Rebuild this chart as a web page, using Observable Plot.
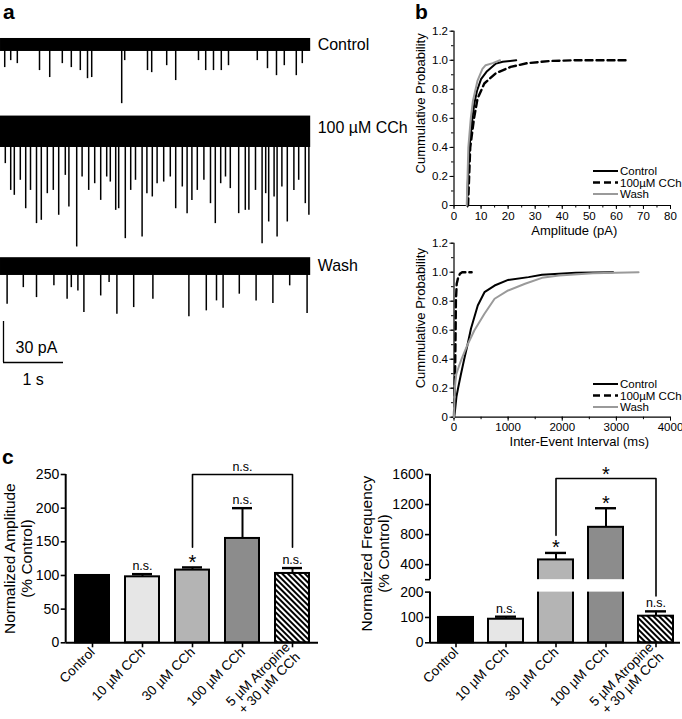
<!DOCTYPE html>
<html><head><meta charset="utf-8">
<script src="https://cdn.jsdelivr.net/npm/d3@7"></script>
<script src="https://cdn.jsdelivr.net/npm/@observablehq/plot@0.6"></script>
<style>
body{margin:0;background:#fff;}
#fig{position:relative;width:682px;height:719px;overflow:hidden;font-family:"Liberation Sans",Arial,sans-serif;color:#000;background:#fff}
.letter{position:absolute;font-weight:bold;font-size:21px;line-height:1}
</style></head><body><div id="fig"></div>
<script>
// ---------------- Panel a : traces (event times in s, amplitudes in pA) ----------------
const traceDuration = 5.17;
const controlEventTimes = [0.07,0.17,0.28,0.65,0.82,1.03,1.18,1.33,1.45,1.52,2.02,2.07,2.45,2.52,2.77,2.92,3.30,3.42,3.55,3.68,3.80,4.28,4.45,4.60,4.73,4.93,5.03];
const controlEventAmps  = [16.8,11.7,13.9,19.0,24.1,13.9,16.8,19.0,24.9,24.1,43.2,11.7,19.0,20.5,15.4,26.3,11.7,19.0,19.0,19.0,15.4,11.7,17.6,22.7,15.4,22.7,13.9];
const cchEventTimes = [0.08,0.17,0.23,0.33,0.42,0.50,0.60,0.68,0.78,0.88,0.97,1.08,1.14,1.27,1.36,1.47,1.57,1.67,1.77,1.83,1.92,1.97,2.08,2.17,2.25,2.36,2.44,2.53,2.61,2.72,2.83,2.92,3.03,3.11,3.19,3.28,3.39,3.50,3.58,3.67,3.75,3.83,3.97,4.08,4.14,4.25,4.36,4.42,4.47,4.56,4.61,4.69,4.78,4.89,4.97,5.08,5.14];
const cchEventAmps  = [25.8,45.4,49.0,38.0,58.8,45.4,69.7,67.3,47.8,45.4,63.6,34.4,57.6,86.8,35.6,45.4,40.5,52.7,35.6,39.3,60.0,58.8,80.7,45.4,38.0,79.5,47.8,50.2,40.5,39.3,35.6,58.8,42.9,62.4,52.7,45.4,38.0,55.1,69.7,40.5,35.6,44.1,62.4,60.0,60.0,45.4,84.4,47.8,68.5,50.2,79.5,42.9,68.5,45.4,38.0,55.1,63.6];
const washEventTimes = [0.11,0.38,0.60,0.89,1.11,1.18,1.29,1.39,1.67,1.81,1.94,2.22,2.54,3.14,3.43,3.60,3.71,3.98,4.26,4.54,4.82,5.11];
const washEventAmps  = [28.0,15.9,23.2,14.6,24.4,15.9,18.3,34.1,22.0,12.2,35.4,30.5,24.4,37.3,32.9,25.6,31.0,20.7,25.6,27.6,14.6,34.9];
const controlNoise = [-5, 4.5];
const cchNoise = [-14, 9];
const washNoise = [-7, 6];
const traceLabels = ["Control", "100 µM CCh", "Wash"];
const scaleBarValues = [30, 1]; // pA, s

// ---------------- Panel b : cumulative distributions ----------------
const seriesNames = ["Control", "100µM CCh", "Wash"];
const ampControl = [[4.8,0],[5.2,0.2],[5.7,0.4],[6.8,0.6],[7.5,0.7],[8.5,0.79],[10,0.87],[12,0.92],[15.5,0.977],[18,0.99],[23,1.0]];
const ampCCh = [[5.2,0],[5.6,0.2],[6,0.4],[7.4,0.6],[8.7,0.736],[11.2,0.84],[15.4,0.91],[20.9,0.954],[27,0.98],[35.7,0.995],[45,1.0],[64.6,1.0]];
const ampWash = [[4.7,0],[5.0,0.2],[5.3,0.4],[6.2,0.6],[7,0.72],[8.7,0.86],[10.5,0.94],[11.7,0.966],[14.3,0.98],[17,1.0]];
const ieiControl = [[0,0],[20,0.05],[45,0.14],[75,0.2],[130,0.3],[188,0.4],[250,0.5],[313,0.61],[439,0.77],[563,0.862],[750,0.908],[1000,0.947],[1377,0.966],[1626,0.982],[2251,0.996],[2940,1.0]];
const ieiCCh = [[0,0],[20,0.3],[30,0.6],[35,0.8],[50,0.92],[75,0.96],[110,0.99],[150,1.0],[326,1.0]];
const ieiWash = [[0,0],[10,0.15],[25,0.25],[45,0.3],[90,0.35],[139,0.4],[250,0.5],[375,0.598],[563,0.713],[750,0.817],[1000,0.874],[1313,0.92],[1626,0.961],[1940,0.977],[2565,0.993],[3410,1.0]];
const probTicks = [0,0.2,0.4,0.6,0.8,1.0,1.2];
const ampTicks = [0,10,20,30,40,50,60,70,80];
const ieiTicks = [0,1000,2000,3000,4000];

// ---------------- Panel c : bar charts ----------------
const categories = ["Control","10 µM CCh","30 µM CCh","100 µM CCh","5 µM Atropine\n+ 30 µM CCh"];
const ampMeans = [100, 98, 108, 155, 103];
const ampUpper = [100, 102, 112, 200, 111];
const ampSig = ["", "n.s.", "*", "n.s.", "n.s."];
const freqMeans = [100, 93, 463, 897, 105];
const freqUpper = [100, 103, 556, 1151, 124];
const freqSig = ["", "n.s.", "*", "*", "n.s."];
const ampTicksC = [0,50,100,150,200,250];
const freqTicksC = [0,100,200,400,800,1200,1600];

// ================= drawing =================
const fig = document.getElementById("fig");
const FONT = '"Liberation Sans", Arial, Helvetica, sans-serif';
const baseStyle = {fontFamily: FONT, background: "transparent", overflow: "visible", color: "#000"};
function place(node, left, top) {
  node.style.position = "absolute"; node.style.left = left + "px"; node.style.top = top + "px";
  fig.appendChild(node); return node;
}
function html(cls, text, left, top) {
  const d = document.createElement("div"); d.className = cls; d.textContent = text;
  d.style.left = left + "px"; d.style.top = top + "px"; fig.appendChild(d); return d;
}

// ----- panel a -----
const PX_PER_PA = 41 / 30, PX_PER_S = 60;
const traceWidth = traceDuration * PX_PER_S;
function tracePlot(label, times, amps, band, domain, baselinePx) {
  const events = times.map((t, i) => ({t, a: amps[i]}));
  const p = Plot.plot({
    width: traceWidth + 130, height: (domain[1] - domain[0]) * PX_PER_PA,
    marginLeft: 0, marginRight: 130, marginTop: 0, marginBottom: 0,
    x: {domain: [0, traceDuration], axis: null},
    y: {domain, axis: null},
    style: {...baseStyle, fontSize: "16px"},
    marks: [
      Plot.rect([band], {x1: 0, x2: traceDuration, y1: d => d[0], y2: d => d[1], fill: "#000"}),
      Plot.ruleX(events, {x: "t", y1: 0, y2: d => -d.a, stroke: "#000", strokeWidth: 1.5}),
      Plot.text([label], {frameAnchor: "right", y: () => 0, text: d => d, textAnchor: "start", lineAnchor: "middle", dx: 7, fontSize: 16})
    ]
  });
  place(p, 0, baselinePx - domain[1] * PX_PER_PA);
}
tracePlot(traceLabels[0], controlEventTimes, controlEventAmps, controlNoise, [-45, 14], 44);
tracePlot(traceLabels[1], cchEventTimes, cchEventAmps, cchNoise, [-90, 16], 128);
tracePlot(traceLabels[2], washEventTimes, washEventAmps, washNoise, [-40, 12], 265);

// scale bar
{
  const [pa, s] = scaleBarValues;
  const p = Plot.plot({
    width: s * PX_PER_S + 3 + 30, height: pa * PX_PER_PA + 3 + 30,
    marginLeft: 3, marginRight: 30, marginTop: 3, marginBottom: 30,
    x: {domain: [0, s], axis: null}, y: {domain: [0, pa], axis: null},
    style: {...baseStyle, fontSize: "16px"},
    marks: [
      Plot.ruleX([0], {y1: 0, y2: pa, strokeWidth: 1.3}),
      Plot.ruleY([0], {x1: 0, x2: s, strokeWidth: 1.3}),
      Plot.text([`${pa} pA`], {frameAnchor: "bottom-left", text: d => d, textAnchor: "start", lineAnchor: "middle", dx: 12, dy: -15, fontSize: 16}),
      Plot.text([`${s} s`], {frameAnchor: "bottom-left", text: d => d, textAnchor: "start", lineAnchor: "middle", dx: 19, dy: 17, fontSize: 16})
    ]
  });
  place(p, 0, 318);
}

// ----- panel b -----
const seriesStroke = ["#000", "#000", "#9a9a9a"];
const seriesDash = [null, "7,4", null];
const seriesWidth = [2, 2.4, 2];
function cumPlot({top, series, xDomain, xTicks, xMinorStep, xTitle, xTitleDx, yTitleDy, marginTop, marginBottom, height, legendTop}) {
  const xMinor = d3.range(xDomain[0], xDomain[1] + 1e-9, xMinorStep);
  const yMinor = d3.range(0, 1.2001, 0.1);
  const marks = [
    Plot.ruleX([xDomain[0]], {strokeWidth: 1.2}),
    Plot.ruleY([0], {strokeWidth: 1.2}),
    Plot.axisY(yMinor, {tickSize: 2.5, tickFormat: () => ""}),
    Plot.axisY(probTicks, {tickSize: 4, tickPadding: 2, fontSize: 11.5, tickFormat: d => d === 0 ? "0" : d.toFixed(1)}),
    Plot.axisX(xMinor, {tickSize: 2.5, tickFormat: () => ""}),
    Plot.axisX(xTicks, {tickSize: 4, tickPadding: 2, fontSize: 11.5, tickFormat: d => String(d)}),
  ];
  series.forEach((s, i) => marks.push(Plot.line(s, {x: d => d[0], y: d => d[1], stroke: seriesStroke[i], strokeWidth: seriesWidth[i], strokeDasharray: seriesDash[i]})));
  marks.push(Plot.text(["Cummulative Probability"], {frameAnchor: "left", text: d => d, rotate: -90, textAnchor: "middle", lineAnchor: "middle", dx: -33.5, dy: yTitleDy, fontSize: 13}));
  marks.push(Plot.text([xTitle], {frameAnchor: "bottom", text: d => d, textAnchor: "middle", lineAnchor: "middle", dx: xTitleDx, dy: 25, fontSize: 13}));
  const p = Plot.plot({
    width: 282, height, marginLeft: 53.5, marginRight: 12, marginTop, marginBottom,
    x: {domain: xDomain}, y: {domain: [0, 1.2]},
    style: {...baseStyle, fontSize: "11.5px"},
    marks
  });
  place(p, 400, top);
  // legend
  const ns = "http://www.w3.org/2000/svg";
  const svg = document.createElementNS(ns, "svg");
  svg.setAttribute("width", 90); svg.setAttribute("height", 36);
  svg.style.cssText = `position:absolute;left:593px;top:${legendTop}px;overflow:visible`;
  seriesNames.forEach((n, i) => {
    const y = 5 + i * 11.5;
    const l = document.createElementNS(ns, "line");
    l.setAttribute("x1", 0); l.setAttribute("x2", 25); l.setAttribute("y1", y); l.setAttribute("y2", y);
    l.setAttribute("stroke", seriesStroke[i]); l.setAttribute("stroke-width", seriesWidth[i]);
    if (seriesDash[i]) l.setAttribute("stroke-dasharray", seriesDash[i]);
    svg.appendChild(l);
    const t = document.createElementNS(ns, "text");
    t.setAttribute("x", 27); t.setAttribute("y", y + 4); t.setAttribute("font-size", 11.5);
    t.setAttribute("font-family", FONT); t.textContent = n;
    svg.appendChild(t);
  });
  fig.appendChild(svg);
}
cumPlot({top: 0, series: [ampControl, ampCCh, ampWash], xDomain: [0, 80], xTicks: ampTicks, xMinorStep: 5,
  xTitle: "Amplitude (pA)", xTitleDx: 12, yTitleDy: -15, marginTop: 30.7, marginBottom: 35, height: 240, legendTop: 166});
cumPlot({top: 220, series: [ieiControl, ieiCCh, ieiWash], xDomain: [0, 4000], xTicks: ieiTicks, xMinorStep: 500,
  xTitle: "Inter-Event Interval (ms)", xTitleDx: 17, yTitleDy: -12, marginTop: 22.7, marginBottom: 43.3, height: 240, legendTop: 379});

// ----- panel c -----
const barFills = ["#000000", "#e6e6e6", "#b4b4b4", "#8c8c8c", null];
function leftAxisLine(index, scales, values, dims) {
  const l = document.createElementNS("http://www.w3.org/2000/svg", "line");
  l.setAttribute("x1", dims.marginLeft); l.setAttribute("x2", dims.marginLeft);
  l.setAttribute("y1", dims.marginTop); l.setAttribute("y2", dims.height - dims.marginBottom);
  l.setAttribute("stroke", "#000"); l.setAttribute("stroke-width", 2);
  return l;
}
function addHatch(svg, id) {
  const ns = "http://www.w3.org/2000/svg";
  const defs = document.createElementNS(ns, "defs");
  const pat = document.createElementNS(ns, "pattern");
  pat.setAttribute("id", id); pat.setAttribute("width", 4); pat.setAttribute("height", 4);
  pat.setAttribute("patternUnits", "userSpaceOnUse"); pat.setAttribute("patternTransform", "rotate(-45)");
  const r = document.createElementNS(ns, "rect");
  r.setAttribute("width", 4); r.setAttribute("height", 4); r.setAttribute("fill", "#fff");
  const l = document.createElementNS(ns, "line");
  l.setAttribute("x1", 1); l.setAttribute("x2", 1); l.setAttribute("y1", 0); l.setAttribute("y2", 4);
  l.setAttribute("stroke", "#000"); l.setAttribute("stroke-width", 2);
  pat.appendChild(r); pat.appendChild(l); defs.appendChild(pat);
  svg.insertBefore(defs, svg.firstChild);
}
function barPlot({left, means, uppers, sig, hatchId, yTicks, yOpt, title, titleDx, titleDy, marginLeft, marginRight, padIn, padOut, bracket, extra}) {
  const data = categories.map((c, i) => ({cat: c, mean: means[i], upper: uppers[i], sig: sig[i],
    fill: barFills[i] ?? `url(#${hatchId})`}));
  const err = data.filter(d => d.upper > d.mean);
  const marks = [
    Plot.barY(data, {x: "cat", y: "mean", fill: "fill", stroke: "#000", strokeWidth: 2}),
    Plot.ruleX(err, {x: "cat", y1: "mean", y2: "upper", strokeWidth: 2}),
    Plot.tickY(err, {x: "cat", y: "upper", strokeWidth: 2.4, insetLeft: 7, insetRight: 7}),
    leftAxisLine,
    ...(extra || []),
    Plot.ruleY([0], {strokeWidth: 2}),
    Plot.axisY(yTicks, {tickSize: 5, tickPadding: 2, fontSize: 14, strokeWidth: 1.6, tickFormat: d => String(d)}),
    Plot.axisX(categories, {tickSize: 5, tickPadding: 2, tickRotate: -45, fontSize: 13.5, lineHeight: 1.05, strokeWidth: 1.6, tickFormat: d => d, label: null}),
    Plot.line(bracket.points, {x: "cat", y: "y", strokeWidth: 1.6}),
    Plot.text([bracket.label], {x: () => categories[3], y: () => bracket.top, text: d => d, dy: bracket.label === "*" ? -4 : -8, fontSize: bracket.label === "*" ? 20 : 12.5}),
    Plot.text(data.filter(d => d.sig === "n.s."), {x: "cat", y: "upper", text: "sig", dy: -8, fontSize: 12.5}),
    Plot.text(data.filter(d => d.sig === "*"), {x: "cat", y: "upper", text: "sig", dy: -5, fontSize: 20}),
    Plot.text([title], {frameAnchor: "left", text: d => d, rotate: -90, textAnchor: "middle", lineAnchor: "middle", dx: titleDx, dy: titleDy, fontSize: 15.5, lineHeight: 1.1})
  ];
  const p = Plot.plot({
    width: left === 0 ? 340 : 342, height: 279, marginLeft, marginRight, marginTop: 34, marginBottom: 76.7,
    x: {domain: categories, paddingInner: padIn, paddingOuter: padOut, axis: null},
    y: {...yOpt, axis: null},
    color: {type: "identity"},
    style: {...baseStyle, fontSize: "14px"},
    marks
  });
  addHatch(p, hatchId);
  place(p, left, 440);
}
barPlot({left: 0, means: ampMeans, uppers: ampUpper, sig: ampSig, hatchId: "hatchL", yTicks: ampTicksC,
  yOpt: {domain: [0, 250]}, title: "Normalized Amplitude\n(% Control)", titleDx: -48, titleDy: 0,
  marginLeft: 65.7, marginRight: 22, padIn: 0.325, padOut: 0.164,
  bracket: {points: [{cat: categories[2], y: 142}, {cat: categories[2], y: 250}, {cat: categories[4], y: 250}, {cat: categories[4], y: 142}], top: 250, label: "n.s."}});

// broken axis for frequency: 0-200 lower segment, 200-1600 compressed upper segment
const BREAK = 200, GAP = 49, UPPER_K = 0.2964;
const brk = v => v <= BREAK ? v : BREAK + GAP + (v - BREAK) * UPPER_K;
barPlot({left: 340, means: freqMeans, uppers: freqUpper, sig: freqSig, hatchId: "hatchR", yTicks: freqTicksC,
  yOpt: {transform: brk, domain: [0, brk(1600)]}, title: "Normalized Frequency\n(% Control)", titleDx: -55.5, titleDy: -5,
  marginLeft: 90, marginRight: 2, padIn: 0.31, padOut: 0.12,
  extra: [
    Plot.rect([BREAK], {y1: d => d, y2: d => d + 1e-6, fill: "#fff", insetLeft: -4}),
    Plot.axisY([BREAK + 1e-6], {tickSize: 5, strokeWidth: 1.6, tickFormat: () => ""})
  ],
  bracket: {points: [{cat: categories[2], y: 790}, {cat: categories[2], y: 1547}, {cat: categories[4], y: 1547}, {cat: categories[4], y: 185}], top: 1547, label: "*"}});

// panel letters
html("letter", "a", 3, 1);
html("letter", "b", 415, 1);
html("letter", "c", 2, 446);
</script></body></html>
